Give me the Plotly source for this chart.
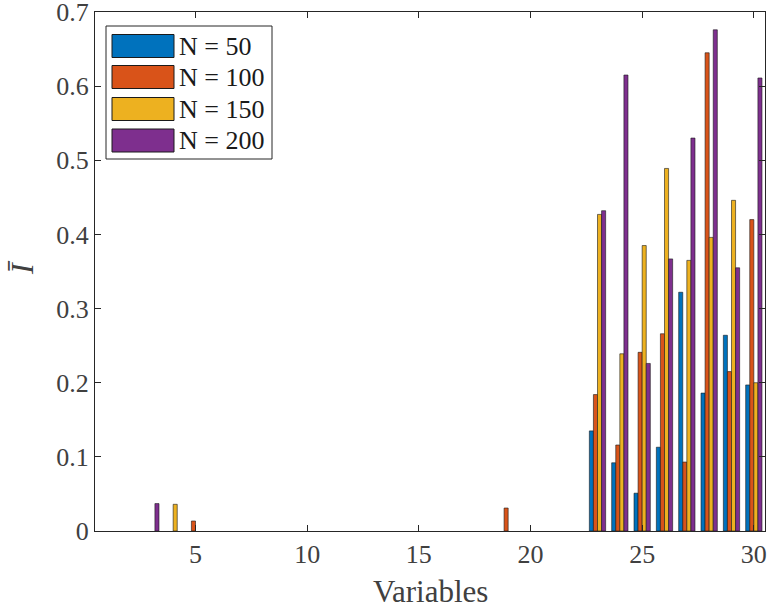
"""
Grouped bar chart of mean importance per variable for several sample sizes.
"""

import plotly.graph_objects as go

# Data
variables = list(range(1, 31))
series_names = ["N = 50", "N = 100", "N = 150", "N = 200"]
series_colors = ["#0072BD", "#D95319", "#EDB120", "#7E2F8E"]

n50 = [0] * 22 + [0.135, 0.092, 0.051, 0.113, 0.322, 0.186, 0.264, 0.197]
n100 = ([0] * 4 + [0.0135] + [0] * 13 + [0.031] + [0] * 3
        + [0.184, 0.116, 0.241, 0.266, 0.093, 0.645, 0.215, 0.420])
n150 = ([0] * 3 + [0.036] + [0] * 18
        + [0.427, 0.239, 0.385, 0.489, 0.365, 0.396, 0.446, 0.200])
n200 = ([0] * 2 + [0.037] + [0] * 19
        + [0.432, 0.615, 0.226, 0.367, 0.530, 0.676, 0.355, 0.611])
series_values = [n50, n100, n150, n200]

x_ticks = [5, 10, 15, 20, 25, 30]
y_ticks = [0, 0.1, 0.2, 0.3, 0.4, 0.5, 0.6, 0.7]

FONT = "Liberation Serif, Times New Roman, serif"
TEXT_COLOR = "#404040"
AXIS_COLOR = "#262626"

W, H = 772, 609
MARGIN = dict(l=95, r=7, t=12, b=78)
PLOT_W = W - MARGIN["l"] - MARGIN["r"]
PLOT_H = H - MARGIN["t"] - MARGIN["b"]


def px(x):
    """Pixel x -> paper x (relative to plot area)."""
    return (x - MARGIN["l"]) / PLOT_W


def py(y):
    """Pixel y (from top) -> paper y (relative to plot area)."""
    return (H - MARGIN["b"] - y) / PLOT_H


fig = go.Figure()

for name, color, values in zip(series_names, series_colors, series_values):
    fig.add_trace(
        go.Bar(
            x=variables,
            y=values,
            name=name,
            marker=dict(
                color=color,
                # zero-height bars get no outline (MATLAB hides them under the axis)
                line=dict(color="#1a1a1a", width=[0.6 if v > 0 else 0 for v in values]),
            ),
            showlegend=False,
        )
    )

axis_common = dict(
    showline=True,
    linecolor=AXIS_COLOR,
    linewidth=1,
    mirror="ticks",
    ticks="inside",
    ticklen=6,
    tickcolor=AXIS_COLOR,
    showgrid=False,
    zeroline=False,
    automargin=False,
    ticklabeloverflow="allow",
    tickfont=dict(family=FONT, size=26, color=TEXT_COLOR),
)

fig.update_layout(
    width=W,
    height=H,
    margin=MARGIN,
    paper_bgcolor="white",
    plot_bgcolor="white",
    barmode="group",
    bargap=0.27,
    bargroupgap=0,
    xaxis=dict(**axis_common, range=[0.5, 30.5], tickvals=x_ticks),
    yaxis=dict(
        **axis_common,
        range=[0, 0.70001],
        tickvals=y_ticks,
        ticktext=[f"{v:g}" for v in y_ticks],
    ),
)

# Axis titles
fig.add_annotation(
    x=px(430), y=py(591), xref="paper", yref="paper",
    text="Variables", showarrow=False, xanchor="center", yanchor="middle",
    font=dict(family=FONT, size=31, color=TEXT_COLOR),
)
fig.add_annotation(
    x=px(22), y=py(268), xref="paper", yref="paper",
    text="<i>Ī</i>", showarrow=False, xanchor="center", yanchor="middle",
    textangle=-90, font=dict(family=FONT, size=32, color=TEXT_COLOR),
)

# MATLAB-style legend box with wide swatches
leg_left, leg_right = 106, 272
leg_top, leg_bottom = 26, 159
row_centers = [46, 77, 109, 140.5]

fig.add_shape(
    type="rect", xref="paper", yref="paper",
    x0=px(leg_left), x1=px(leg_right), y0=py(leg_bottom), y1=py(leg_top),
    line=dict(color="#262626", width=1), fillcolor="white", layer="above",
)
for name, color, yc in zip(series_names, series_colors, row_centers):
    fig.add_shape(
        type="rect", xref="paper", yref="paper",
        x0=px(112), x1=px(174), y0=py(yc + 11.5), y1=py(yc - 11.5),
        line=dict(color="#1a1a1a", width=1), fillcolor=color, layer="above",
    )
    fig.add_annotation(
        x=px(177), y=py(yc), xref="paper", yref="paper",
        text=name, showarrow=False, xanchor="left", yanchor="middle",
        font=dict(family=FONT, size=26, color="#1a1a1a"),
    )

# drop the default body margin so the figure sits at the page's top-left corner
fig.write_html(
    "out.html",
    config={"displayModeBar": False},
    post_script="document.body.style.margin = '0';",
)
